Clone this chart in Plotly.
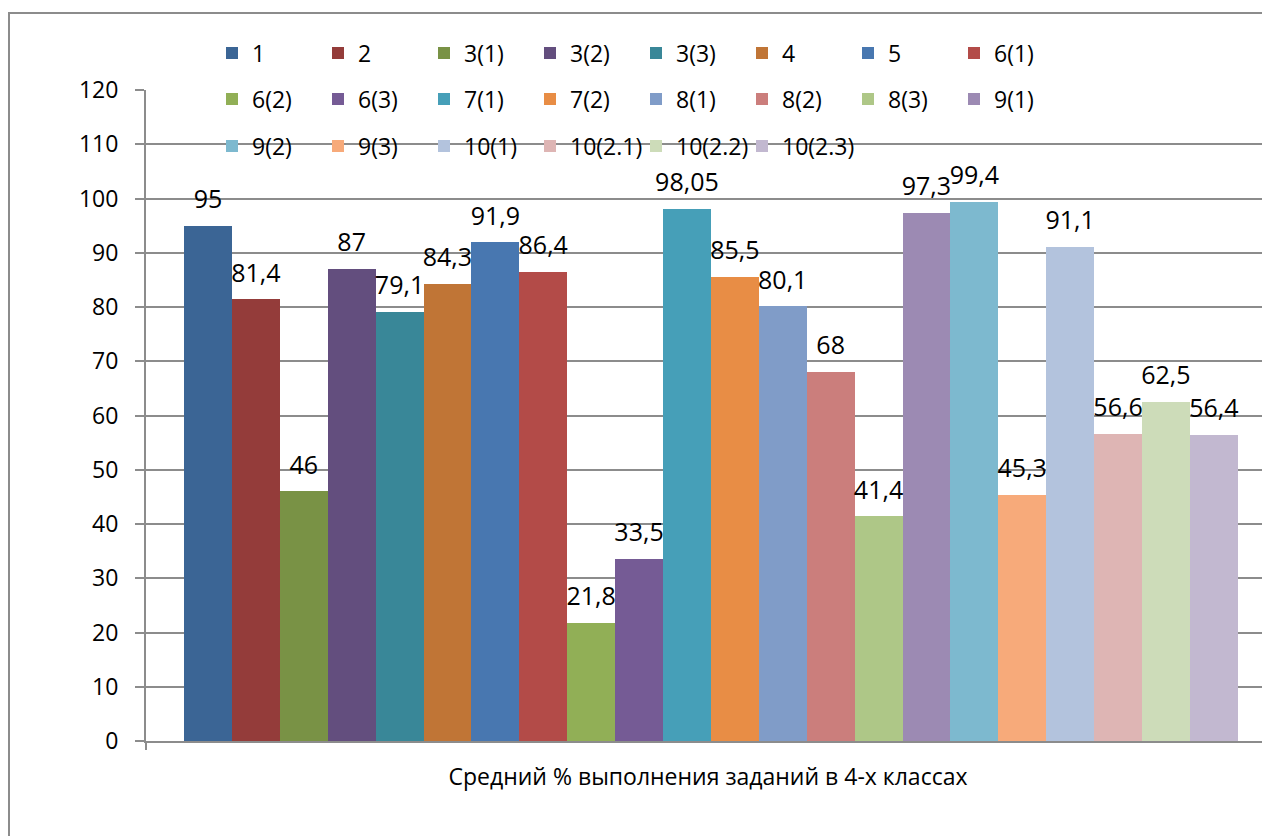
import plotly.graph_objects as go

series_names = ["1", "2", "3(1)", "3(2)", "3(3)", "4", "5", "6(1)",
                "6(2)", "6(3)", "7(1)", "7(2)", "8(1)", "8(2)", "8(3)", "9(1)",
                "9(2)", "9(3)", "10(1)", "10(2.1)", "10(2.2)", "10(2.3)"]
values = [95, 81.4, 46, 87, 79.1, 84.3, 91.9, 86.4,
          21.8, 33.5, 98.05, 85.5, 80.1, 68, 41.4, 97.3,
          99.4, 45.3, 91.1, 56.6, 62.5, 56.4]
colors = ["#3B6595", "#943C3A", "#799245", "#634E7E", "#398798", "#C07536",
          "#4877B0", "#B34B48", "#91AF56", "#755B95", "#469FB8", "#E88D45",
          "#809CC8", "#CB7E7C", "#AEC787", "#9C8AB3", "#7DB9CF", "#F7AA7A",
          "#B3C3DD", "#DEB5B4", "#CDDCB9", "#C2B8D0"]
category_title = "Средний % выполнения заданий в 4-х классах"
y_ticks = list(range(0, 121, 10))

FONT = "Open Sans"
GRID = "#8c8c8c"

def fmt(v):
    return f"{v:g}".replace(".", ",")

fig = go.Figure()
legend_ids = ["legend", "legend2", "legend3"]
for i, (name, val, col) in enumerate(zip(series_names, values, colors)):
    fig.add_trace(go.Bar(
        x=[name], y=[val], name=name, width=1,
        marker=dict(color=col, line=dict(width=0)),
        legend=legend_ids[i // 8],
        legendwidth=(95 if i == len(series_names) - 1 else None),
        hoverinfo="name+y",
    ))

# data labels
fig.add_trace(go.Scatter(
    x=series_names, y=values, mode="markers+text",
    text=[fmt(v) for v in values], textposition="top center",
    marker=dict(size=17, opacity=0), textfont=dict(family=FONT, size=25, color="black"),
    showlegend=False, hoverinfo="skip", cliponaxis=False,
))

# page body has an 8px margin; work in reference-pixel coordinates
OFF = 8
W, H = 1270 - OFF, 836 - OFF
L, T = 146 - OFF, 90 - OFF
PLOT_BOTTOM = 741 - OFF
R = 0
B = H - PLOT_BOTTOM
pw, ph = W - L - R, PLOT_BOTTOM - T

def px_x(p):
    return (p - OFF - L) / pw

def px_y(p):
    return (PLOT_BOTTOM - (p - OFF)) / ph

bar_px = 47.9
left_units = -0.5 - (184 - 146) / bar_px
right_units = left_units + pw / bar_px

row_y = [53, 99, 146]
legend_common = dict(orientation="h", xanchor="left", yanchor="middle",
                     font=dict(family=FONT, size=23, color="black"),
                     bgcolor="rgba(0,0,0,0)", entrywidth=61, entrywidthmode="pixels",
                     itemclick=False, itemdoubleclick=False)
LEG_X = px_x(212)

fig.update_layout(
    width=W, height=H,
    margin=dict(l=L, r=R, t=T, b=B, pad=0),
    paper_bgcolor="white", plot_bgcolor="white",
    font=dict(family=FONT, size=22, color="black"),
    barmode="overlay", bargap=0,
    showlegend=True,
    legend=dict(x=LEG_X, y=px_y(row_y[0]), **legend_common),
    legend2=dict(x=LEG_X, y=px_y(row_y[1]), **legend_common),
    legend3=dict(x=LEG_X, y=px_y(row_y[2]), **legend_common),
    xaxis=dict(type="category", range=[left_units, right_units], showticklabels=False,
               ticks="", showgrid=False, showline=True, linecolor=GRID, linewidth=2,
               title=dict(text=category_title, standoff=27,
                          font=dict(family=FONT, size=23, color="black"))),
    yaxis=dict(range=[0, 120], tickvals=y_ticks, showgrid=True, gridcolor=GRID, gridwidth=2,
               zeroline=False, showline=True, linecolor=GRID, linewidth=2,
               ticks="outside", ticklen=9, tickcolor=GRID, tickwidth=2,
               ticklabelstandoff=12,
               tickfont=dict(family=FONT, size=23, color="black")),
    shapes=[
        dict(type="rect", xref="paper", yref="paper",
             x0=px_x(9), x1=1.1, y0=-0.3, y1=px_y(13),
             line=dict(color=GRID, width=2), fillcolor="rgba(0,0,0,0)", layer="below"),
        dict(type="line", xref="paper", yref="paper",
             x0=0, x1=0, y0=0, y1=px_y(750),
             line=dict(color=GRID, width=2)),
    ],
)

fig.write_html("out.html")
